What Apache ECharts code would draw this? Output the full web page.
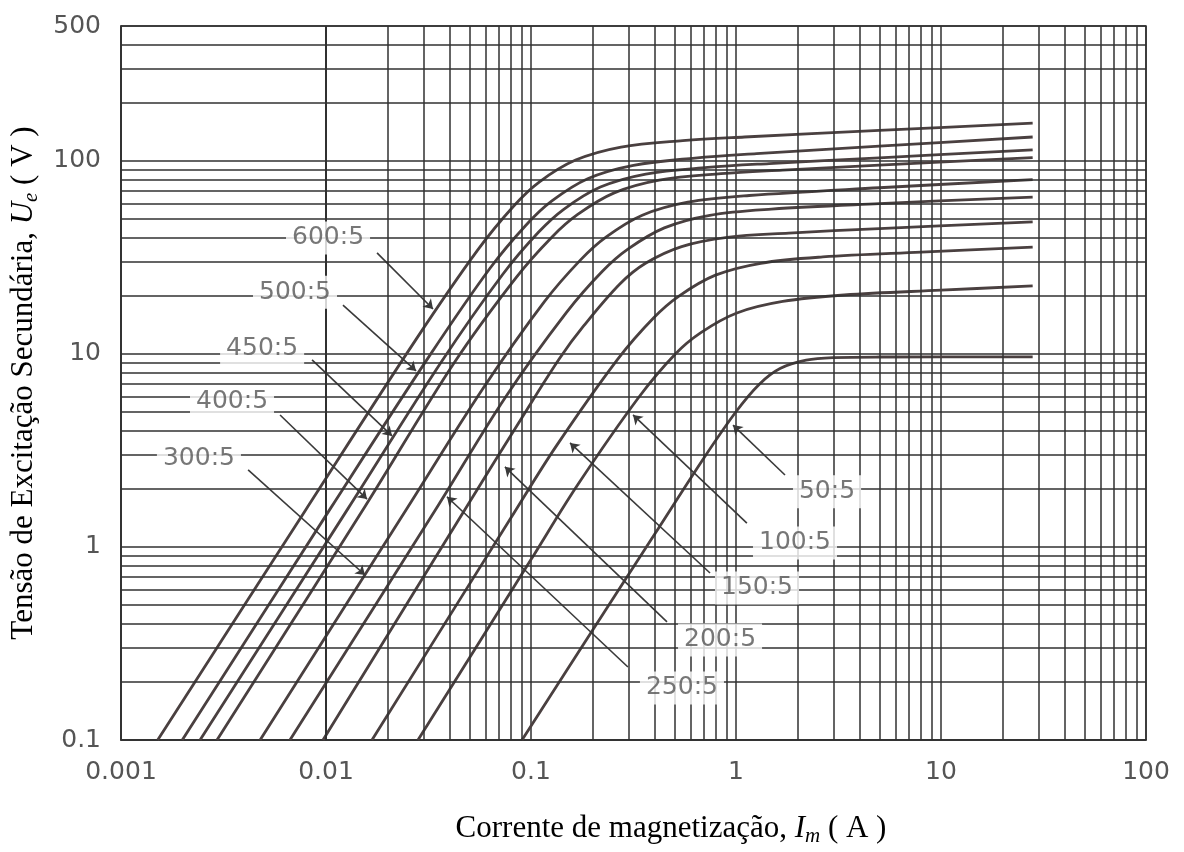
<!DOCTYPE html>
<html><head><meta charset="utf-8">
<script src="https://cdn.jsdelivr.net/npm/echarts@6/dist/echarts.min.js"></script>
<style>html,body{margin:0;padding:0;background:#fff}#c{width:1184px;height:852px}</style>
</head><body><div id="c"></div>
<script>
// ---- data ----
const ratioNames = ['600:5','500:5','450:5','400:5','300:5','250:5','200:5','150:5','100:5','50:5'];
const curve600 = [[0.00151,0.1],[0.008,1.57],[0.0275,11.9],[0.0549,34.5],[0.0824,58.4],[0.11,77.9],[0.165,101],[0.275,118],[0.55,127.4],[1.1,133],[5,143.8],[28,157]];
const curve500 = [[0.00199,0.1],[0.0105,1.58],[0.0316,9.6],[0.0631,27.8],[0.0947,46.6],[0.126,61.9],[0.189,80.9],[0.316,94.9],[0.631,103.4],[1.26,109],[5,119.2],[28,133]];
const curve450 = [[0.00243,0.1],[0.0128,1.58],[0.0363,9.0],[0.0727,25.8],[0.109,42.8],[0.145,56.3],[0.218,73.2],[0.363,85.5],[0.727,92.5],[1.45,96.9],[5,103.8],[28,114]];
const curve400 = [[0.00294,0.1],[0.0155,1.62],[0.0422,9.0],[0.0844,24.8],[0.127,40.5],[0.169,52.8],[0.253,68.1],[0.422,79.5],[0.844,85.9],[1.69,89.7],[5,95.1],[28,104]];
const curve300 = [[0.00477,0.1],[0.025,1.6],[0.0582,6.6],[0.116,18.6],[0.175,30.8],[0.233,40.4],[0.349,52.3],[0.582,61.1],[1.16,66.2],[5,72.6],[28,80]];
const curve250 = [[0.00667,0.1],[0.035,1.62],[0.0745,5.9],[0.149,16.4],[0.223,26.8],[0.298,35.0],[0.447,45],[0.745,52.3],[1.49,56.3],[5,60.1],[28,65]];
const curve200 = [[0.00967,0.1],[0.05,1.7],[0.0906,4.7],[0.138,9.5],[0.181,14.0],[0.272,23.1],[0.362,29.5],[0.543,36.0],[0.906,40.2],[1.81,42.3],[5,44.6],[28,48.3]];
const curve150 = [[0.01676,0.1],[0.08,1.42],[0.132,3.3],[0.265,9.4],[0.397,15.4],[0.529,20.0],[0.794,25.6],[1.32,29.5],[2.65,31.8],[8,33.7],[28,35.8]];
const curve100 = [[0.0281,0.1],[0.1,0.86],[0.169,2.1],[0.337,6.0],[0.506,10.0],[0.674,12.9],[1.01,16.3],[1.69,18.7],[3.37,20.2],[10,21.4],[28,22.5]];
const curve50  = [[0.0904,0.1],[0.2,0.371],[0.4,1.16],[0.7,2.91],[1.0,5.02],[1.3,6.97],[1.64,8.4],[2.2,9.28],[3.0,9.57],[5,9.64],[28,9.65]];
const curves = [curve600, curve500, curve450, curve400, curve300, curve250, curve200, curve150, curve100, curve50];

// label boxes (data coordinates of their centres)
const labelI = [0.01023, 0.00706, 0.00488, 0.00348, 0.0024, 0.545, 0.836, 1.266, 1.94, 2.78];
const labelV = [39.9, 20.9, 10.7, 5.64, 2.89, 0.186, 0.330, 0.613, 1.05, 1.93];
const labelNames = ['600:5','500:5','450:5','400:5','300:5','250:5','200:5','150:5','100:5','50:5'];
// leader lines (label side -> arrow on curve)
const leaderStart = [[0.01774,33.4],[0.0121,17.9],[0.00855,9.31],[0.00597,4.83],[0.00417,2.51],[0.297,0.239],[0.4607,0.409],[0.747,0.733],[1.13,1.33],[1.734,2.36]];
const leaderEnd   = [[0.03327,17.1],[0.0275,8.17],[0.021,3.76],[0.01585,1.77],[0.01549,0.716],[0.0389,1.82],[0.0746,2.60],[0.155,3.46],[0.3146,4.83],[0.967,4.28]];

// axes
const xMin = 0.001, xMax = 100, yMin = 0.1, yMax = 500;
const xDecades = [0.001, 0.01, 0.1, 1, 10];
const yDecades = [0.1, 1, 10, 100];
const minorSteps = [2,3,4,5,6,7,8,9];

const xMinor = [], yMinor = [];
xDecades.forEach(d => minorSteps.forEach(s => { const v = +(d*s).toPrecision(6); if (v < xMax) xMinor.push(v); }));
yDecades.forEach(d => minorSteps.forEach(s => { const v = +(d*s).toPrecision(6); if (v < yMax) yMinor.push(v); }));

const gridColor = '#303030';
const gridWidth = 1.5;
const curveColor = '#4a4040';
const tickFont = { fontFamily: 'DejaVu Sans', fontSize: 25, color: '#555' };
const nameRich = {
  n: { fontFamily: 'Liberation Serif', fontSize: 31, color: '#000' },
  i: { fontFamily: 'Liberation Serif', fontSize: 31, color: '#000', fontStyle: 'italic' },
  s: { fontFamily: 'Liberation Serif', fontSize: 21, color: '#000', fontStyle: 'italic', padding: [16, 0, 0, 0] }
};
const fmt = v => String(Number((+v).toPrecision(3)));

const chart = echarts.init(document.getElementById('c'), null, { renderer: 'canvas' });

const series = curves.map((c, k) => ({
  name: ratioNames[k], type: 'line', data: c, smooth: 0.35, symbol: 'none',
  lineStyle: { color: curveColor, width: 2.8 }, z: 3, silent: true,
  markLine: k === 0 ? {
    silent: true, symbol: ['none','none'], label: { show: false }, animation: false,
    lineStyle: { color: gridColor, width: gridWidth, type: 'solid' },
    data: xMinor.map(v => ({ xAxis: v })).concat(yMinor.map(v => ({ yAxis: v })))
  } : undefined
}));

series.push({
  type: 'lines', coordinateSystem: 'cartesian2d', z: 4, silent: true,
  symbol: ['none', 'arrow'], symbolSize: [0, 9],
  lineStyle: { color: '#3a3a3a', width: 1.6, opacity: 1, curveness: 0 },
  data: leaderStart.map((s, i) => ({ coords: [s, leaderEnd[i]] }))
});

series.push({
  type: 'scatter', z: 5, silent: true, symbolSize: 1,
  itemStyle: { color: 'rgba(0,0,0,0)' },
  label: {
    show: true, position: 'inside', formatter: '{b}',
    fontFamily: 'DejaVu Sans', fontSize: 25, color: '#555',
    backgroundColor: '#fff', padding: [5, 6, 3, 6]
  },
  data: labelNames.map((n, i) => ({ name: n, value: [labelI[i], labelV[i]] }))
});

chart.setOption({
  animation: false,
  backgroundColor: '#fff',
  grid: { left: 121, right: 38, top: 26, bottom: 112, show: true, borderColor: gridColor, borderWidth: gridWidth },
  xAxis: {
    type: 'log', logBase: 10, min: xMin, max: xMax,
    axisLine: { show: true, lineStyle: { color: gridColor, width: gridWidth } },
    axisTick: { show: false },
    splitLine: { show: true, lineStyle: { color: gridColor, width: gridWidth } },
    axisLabel: Object.assign({ margin: 20, formatter: fmt }, tickFont),
    name: '{n|Corrente de magnetização, }{i|I}{s|m}{n| ( A )}',
    nameLocation: 'middle', nameGap: 70,
    nameTextStyle: { rich: nameRich, padding: [0, 0, 0, 75] }
  },
  yAxis: {
    type: 'log', logBase: 10, min: yMin, max: yMax,
    axisLine: { show: true, lineStyle: { color: gridColor, width: gridWidth } },
    axisTick: { show: false },
    splitLine: { show: true, lineStyle: { color: gridColor, width: gridWidth } },
    axisLabel: Object.assign({ margin: 20, formatter: fmt, showMaxLabel: true }, tickFont),
    name: '{n|Tensão de Excitação Secundária, }{i|U}{s|e}{n| ( V )}',
    nameLocation: 'middle', nameGap: 74, nameRotate: 90,
    nameTextStyle: { rich: nameRich }
  },
  series: series
});
</script></body></html>
